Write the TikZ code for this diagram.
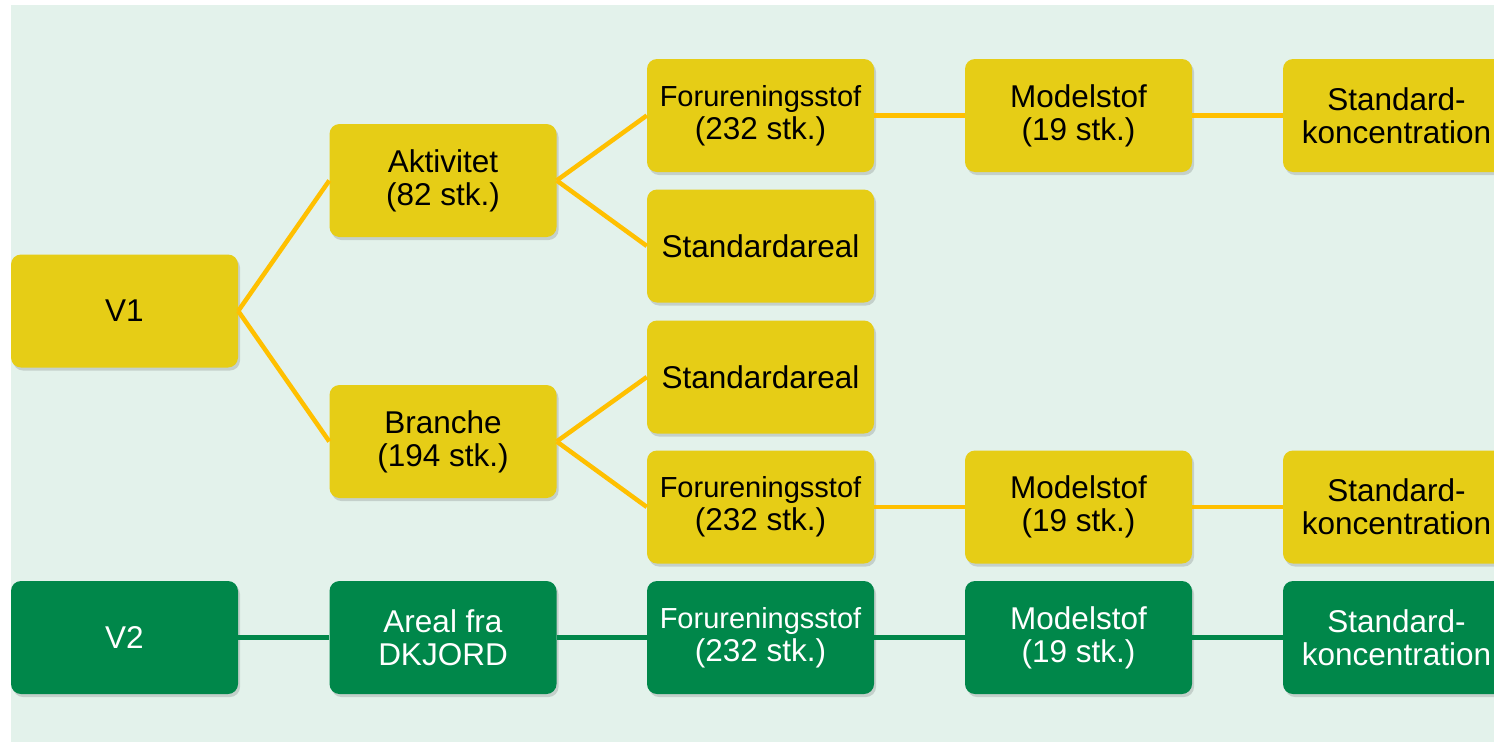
\documentclass[tikz,border=0pt]{standalone}
\usepackage{fontspec}
\setmainfont{Liberation Sans}
\usetikzlibrary{shadows}
\definecolor{bgcol}{RGB}{227,242,235}
\definecolor{ybox}{RGB}{230,205,22}
\definecolor{yline}{RGB}{255,192,0}
\definecolor{gbox}{RGB}{0,135,74}
\tikzset{
  boxbase/.style={rounded corners=10pt, minimum width=227pt, minimum height=113pt,
    inner sep=0pt, align=center, font=\fontsize{31.5}{33}\selectfont,
    drop shadow={shadow xshift=2pt, shadow yshift=-3pt, opacity=0.2, fill=black!70}},
  ynode/.style={boxbase, fill=ybox, text=black},
  gnode/.style={boxbase, fill=gbox, text=white},
  yconn/.style={draw=yline, line width=4.5pt},
  gconn/.style={draw=gbox, line width=4.5pt}
}
\newcommand{\fstof}{{\fontsize{29}{33}\selectfont Forureningsstof}}
\begin{document}
\begin{tikzpicture}[x=1pt,y=-1pt]
\useasboundingbox (0,0) rectangle (1494,742);
\clip (0,0) rectangle (1494,742);
\fill[bgcol] (11,5) rectangle (1494,742);
% yellow tree
\node[ynode] (v1) at (124.5,311) {V1};
\node[ynode] (akt) at (443,180.5) {Aktivitet\\(82 stk.)};
\node[ynode] (bra) at (443,441.5) {Branche\\(194 stk.)};
\node[ynode] (f1) at (760.5,115.5) {\fstof\\(232 stk.)};
\node[ynode] (sa1) at (760.5,246) {Standardareal};
\node[ynode] (sa2) at (760.5,377) {Standardareal};
\node[ynode] (f2) at (760.5,507) {\fstof\\(232 stk.)};
\node[ynode] (m1) at (1078.5,115.5) {Modelstof\\(19 stk.)};
\node[ynode] (m2) at (1078.5,507) {Modelstof\\(19 stk.)};
\node[ynode] (s1) at (1396.5,115.5) {Standard-\\koncentration};
\node[ynode] (s2) at (1396.5,507) {Standard-\\koncentration};
% green row
\node[gnode] (v2) at (124.5,637.5) {V2};
\node[gnode] (ar) at (443,637.5) {Areal fra\\DKJORD};
\node[gnode] (f3) at (760.5,637.5) {\fstof\\(232 stk.)};
\node[gnode] (m3) at (1078.5,637.5) {Modelstof\\(19 stk.)};
\node[gnode] (s3) at (1396.5,637.5) {Standard-\\koncentration};
% connectors
\draw[yconn] (v1.east) -- (akt.west);
\draw[yconn] (v1.east) -- (bra.west);
\draw[yconn] (akt.east) -- (f1.west);
\draw[yconn] (akt.east) -- (sa1.west);
\draw[yconn] (bra.east) -- (sa2.west);
\draw[yconn] (bra.east) -- (f2.west);
\draw[yconn] (f1.east) -- (m1.west);
\draw[yconn] (m1.east) -- (s1.west);
\draw[yconn] (f2.east) -- (m2.west);
\draw[yconn] (m2.east) -- (s2.west);
\draw[gconn] (v2.east) -- (ar.west);
\draw[gconn] (ar.east) -- (f3.west);
\draw[gconn] (f3.east) -- (m3.west);
\draw[gconn] (m3.east) -- (s3.west);
\end{tikzpicture}
\end{document}
